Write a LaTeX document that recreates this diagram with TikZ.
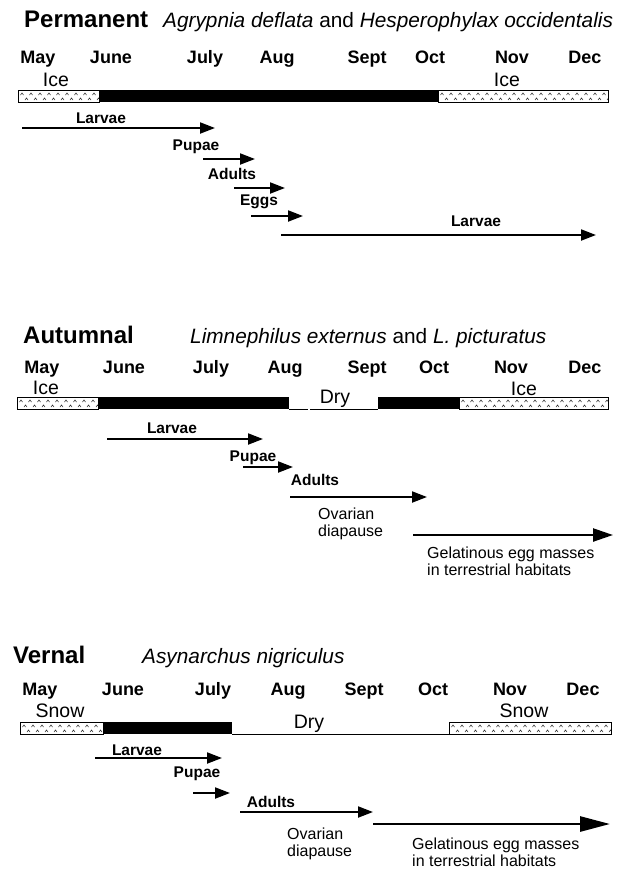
\documentclass[tikz,border=0pt]{standalone}
\usepackage{fontspec}
\setmainfont{Liberation Sans}
\usetikzlibrary{arrows.meta}

\tikzset{
    title/.style={font=\fontsize{24}{27}\selectfont\bfseries, anchor=base west, inner sep=0},
    species/.style={font=\fontsize{20.8}{23}\selectfont\itshape, anchor=base west, inner sep=0},
    month/.style={font=\fontsize{18}{20}\selectfont\bfseries, anchor=base, inner sep=0},
    cover/.style={font=\fontsize{19.5}{22}\selectfont, anchor=base, inner sep=0},
    stage/.style={font=\fontsize{15.5}{17}\selectfont\bfseries, anchor=base, inner sep=0},
    note/.style={font=\fontsize{16}{17}\selectfont, anchor=north west, inner sep=0, align=left},
    span/.style={line width=2pt, -{Triangle[length=15pt,width=11pt]}},
    longspan/.style={line width=2.4pt, -{Triangle[length=20pt,width=13pt]}},
    caret/.style={line width=0.45pt},
}

% ice / snow cover: white box with little carets
\newcommand{\icebar}[3]{%
    \begin{scope}
        \clip (#1,#3) rectangle (#2,#3+12);
        \fill[white] (#1,#3) rectangle (#2,#3+12);
        \foreach \cx in {0,9,...,198} {
            \draw[caret] (#1+\cx+2.5,#3+5) -- (#1+\cx+4,#3+3) -- (#1+\cx+5.5,#3+5);
            \draw[caret] (#1+\cx+7,#3+10) -- (#1+\cx+8.5,#3+8) -- (#1+\cx+10,#3+10);
        }
    \end{scope}
    \draw[line width=0.9pt] (#1,#3) rectangle (#2,#3+12);
}

\begin{document}
\begin{tikzpicture}[x=1pt, y=-1pt]
    \useasboundingbox (0,0) rectangle (622,873);

    % Permanent
    \node[title] (p-title) at (24,27) {Permanent};
    \node[species] (p-species) at (163,27) {Agrypnia deflata \textup{and} Hesperophylax occidentalis};
    \foreach \m/\x in {May/38, June/111, July/205, Aug/277, Sept/367, Oct/430, Nov/512, Dec/585}
        \node[month] (p-\m) at (\x,63) {\m};
    \node[cover] (p-ice1) at (56,86) {Ice};
    \node[cover] (p-ice2) at (507,86) {Ice};
    \icebar{18}{99}{90}
    \fill (99,90) rectangle (438,102);
    \icebar{438}{608}{90}
    \node[stage] (p-larvae1) at (101,123) {Larvae};
    \draw[span] (22,128) -- (215,128);
    \node[stage] (p-pupae) at (196,150) {Pupae};
    \draw[span] (203,159) -- (255,159);
    \node[stage] (p-adults) at (232,179) {Adults};
    \draw[span] (234,188) -- (285,188);
    \node[stage] (p-eggs) at (259,205) {Eggs};
    \draw[span] (251,216) -- (303,216);
    \node[stage] (p-larvae2) at (476,226) {Larvae};
    \draw[span] (281,235) -- (596,235);

    % Autumnal
    \node[title] (a-title) at (23,343) {Autumnal};
    \node[species] (a-species) at (190,343) {Limnephilus externus \textup{and} L. picturatus};
    \foreach \m/\x in {May/42, June/124, July/211, Aug/285, Sept/367, Oct/434, Nov/511, Dec/585}
        \node[month] (a-\m) at (\x,373) {\m};
    \node[cover] (a-ice1) at (46,394) {Ice};
    \node[cover] (a-ice2) at (524,395) {Ice};
    \node[cover] (a-dry) at (335,403) {Dry};
    \icebar{17}{98}{397}
    \fill (98,397) rectangle (289,409);
    \draw[line width=0.8pt] (289,409) -- (308,409);
    \draw[line width=0.8pt] (310,409) -- (378,409);
    \fill (378,397) rectangle (459,409);
    \icebar{459}{608}{397}
    \node[stage] (a-larvae) at (172,433) {Larvae};
    \draw[span] (107,439) -- (263,439);
    \node[stage] (a-pupae) at (253,461) {Pupae};
    \draw[span] (243,467) -- (293,467);
    \node[stage] (a-adults) at (315,485) {Adults};
    \draw[span] (290,497) -- (427,497);
    \node[note] (a-diapause) at (318,508) {Ovarian\\diapause};
    \draw[longspan] (413,535) -- (613,535);
    \node[note] (a-eggs) at (427,547) {Gelatinous egg masses\\in terrestrial habitats};

    % Vernal
    \node[title] (v-title) at (13,663) {Vernal};
    \node[species] (v-species) at (142,663) {Asynarchus nigriculus};
    \foreach \m/\x in {May/40, June/123, July/213, Aug/288, Sept/364, Oct/433, Nov/510, Dec/583}
        \node[month] (v-\m) at (\x,695) {\m};
    \node[cover] (v-snow1) at (60,717) {Snow};
    \node[cover] (v-snow2) at (524,717) {Snow};
    \node[cover] (v-dry) at (309,728) {Dry};
    \icebar{20}{103}{722}
    \fill (103,722) rectangle (232,734);
    \draw[line width=0.8pt] (232,734) -- (449,734);
    \icebar{449}{611}{722}
    \node[stage] (v-larvae) at (137,755) {Larvae};
    \draw[span] (95,758) -- (222,758);
    \node[stage] (v-pupae) at (197,777) {Pupae};
    \draw[span] (193,793) -- (230,793);
    \node[stage] (v-adults) at (271,807) {Adults};
    \draw[span] (240,812) -- (373,812);
    \node[note] (v-diapause) at (287,828) {Ovarian\\diapause};
    \draw[longspan, line width=2.8pt, -{Triangle[length=30pt,width=15pt]}] (373,824) -- (610,824);
    \node[note] (v-eggs) at (412,838) {Gelatinous egg masses\\in terrestrial habitats};
\end{tikzpicture}
\end{document}
